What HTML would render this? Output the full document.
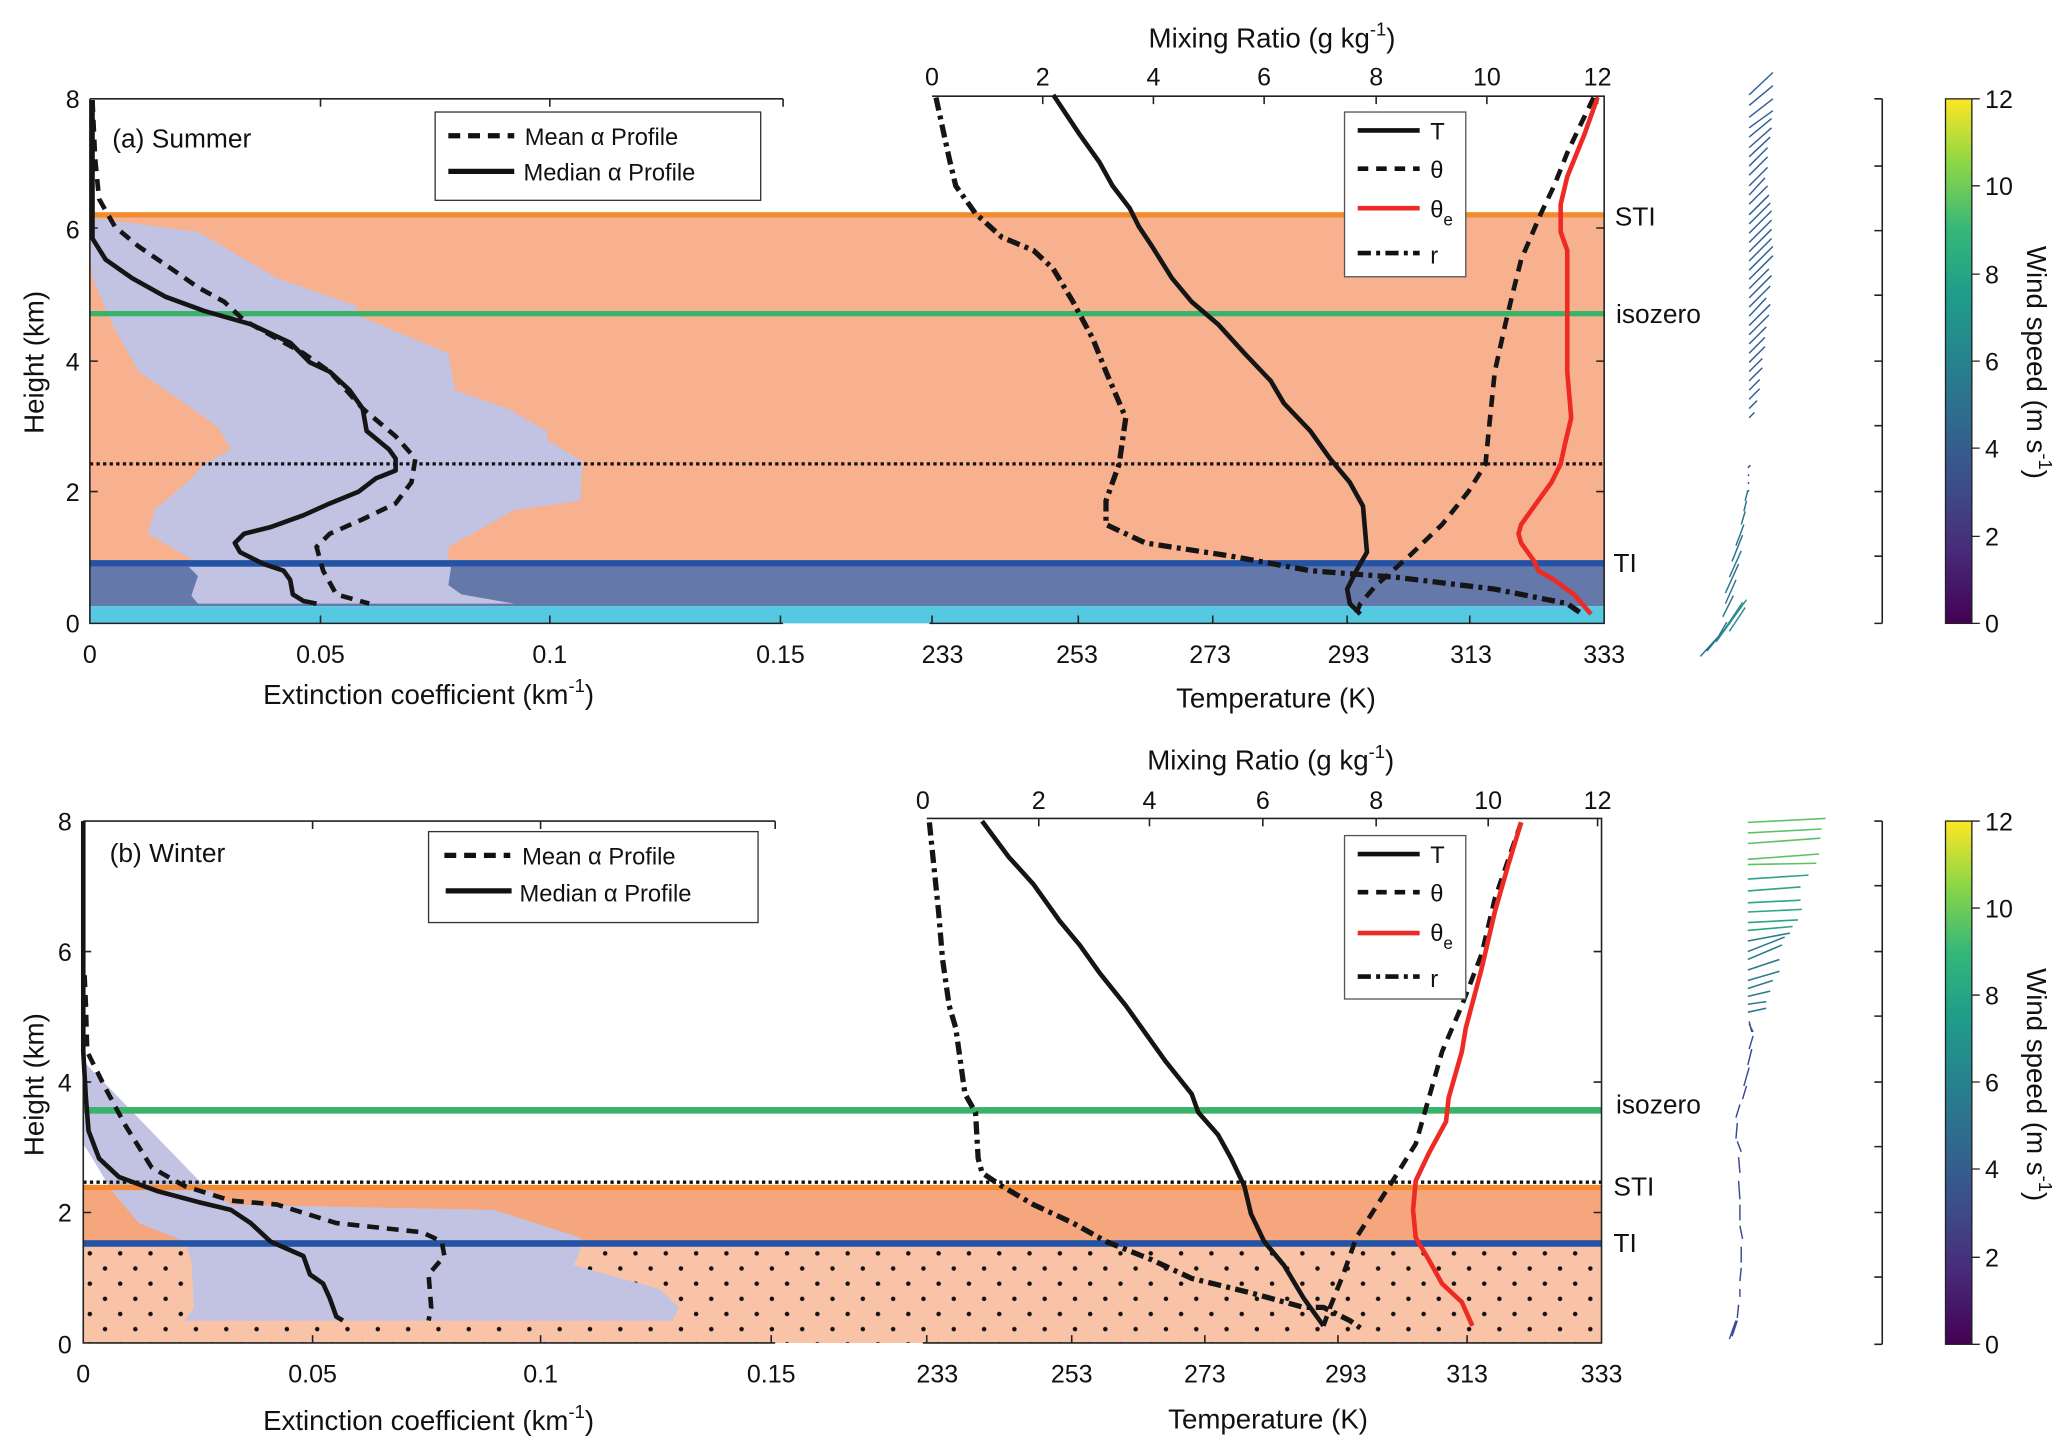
<!DOCTYPE html>
<html><head><meta charset="utf-8"><style>
html,body{margin:0;padding:0;background:#fff;}
svg{display:block;}
text{font-family:"Liberation Sans",sans-serif;fill:#111;}
</style></head><body>
<svg width="2067" height="1455" viewBox="0 0 1568 1104" xmlns="http://www.w3.org/2000/svg">
<defs>
<linearGradient id="vir" x1="0" y1="1" x2="0" y2="0">
<stop offset="0" stop-color="#440154"/><stop offset="0.13" stop-color="#482878"/><stop offset="0.25" stop-color="#3e4a89"/><stop offset="0.38" stop-color="#31688e"/><stop offset="0.5" stop-color="#26828e"/><stop offset="0.63" stop-color="#1f9e89"/><stop offset="0.75" stop-color="#35b779"/><stop offset="0.88" stop-color="#8fd744"/><stop offset="1" stop-color="#fde725"/>
</linearGradient>
<pattern id="dots" x="63" y="946" width="23" height="23" patternUnits="userSpaceOnUse">
<rect width="23" height="23" fill="#f9c3a8"/>
<circle cx="5" cy="5" r="1.7" fill="#111"/><circle cx="16.5" cy="16.5" r="1.7" fill="#111"/>
</pattern>
</defs>

<!-- ============ PANEL A ============ -->
<rect x="68" y="163" width="1149" height="267" fill="#f7b18f"/>
<rect x="68" y="430" width="1149" height="30" fill="#6578aa"/>
<rect x="68" y="460" width="1149" height="13" fill="#55c9e1"/>
<polygon fill="#c2c2e3" points="68,165 150,176 210,211 270,232 270,239 340,268 345,296 385,310 415,327 415,334 442,350 440,380 390,387 340,415 340,426 342,431 340,444 350,451 390,458 150,458 145,452 150,437 142,429 145,424 112,405 117,387 145,363 155,352 175,341 165,324 130,299 105,282 85,246 70,211 68,190"/>
<rect x="68" y="161" width="1149" height="4" fill="#f48a2e"/>
<rect x="68" y="236" width="1149" height="4" fill="#39b26a"/>
<rect x="68" y="425" width="1149" height="5" fill="#2453a6"/>
<line x1="68" y1="352" x2="1217" y2="352" stroke="#111" stroke-width="2.5" stroke-dasharray="2.5,2.5"/>

<g stroke="#222" stroke-width="1.2" fill="none">
<path d="M68 75V473H594M68 75H594"/>
<path d="M68 173h6M68 274h6M68 373h6M243 473v-6M417 473v-6M592 473v-6M243 75v6M417 75v6M594 75v6"/>
<path d="M707 73H1217V473H705"/>
<path d="M707 473v-6M791 73v6M875 73v6M959 73v6M1044 73v6M1128 73v6M1212 73v6M818 473v-6M920 473v-6M1022 473v-6M1115 473v-6M1217 173h-6M1217 274h-6M1217 373h-6"/>
</g>
<g font-size="19" text-anchor="middle">
<text x="55" y="82">8</text><text x="55" y="181">6</text><text x="55" y="281">4</text><text x="55" y="380">2</text><text x="55" y="480">0</text>
<text x="68" y="503">0</text><text x="243" y="503">0.05</text><text x="417" y="503">0.1</text><text x="592" y="503">0.15</text>
<text x="715" y="503">233</text><text x="817" y="503">253</text><text x="918" y="503">273</text><text x="1023" y="503">293</text><text x="1116" y="503">313</text><text x="1217" y="503">333</text>
<text x="707" y="65">0</text><text x="791" y="65">2</text><text x="875" y="65">4</text><text x="959" y="65">6</text><text x="1044" y="65">8</text><text x="1128" y="65">10</text><text x="1212" y="65">12</text>
</g>
<text x="325" y="534" font-size="21" text-anchor="middle">Extinction coefficient (km<tspan font-size="14" dy="-9">-1</tspan><tspan dy="9">)</tspan></text>
<text x="968" y="537" font-size="21" text-anchor="middle">Temperature (K)</text>
<text x="965" y="36" font-size="21" text-anchor="middle">Mixing Ratio (g kg<tspan font-size="14" dy="-9">-1</tspan><tspan dy="9">)</tspan></text>
<text transform="translate(33,275) rotate(-90)" font-size="21" text-anchor="middle">Height (km)</text>
<text x="85" y="112" font-size="20">(a) Summer</text>
<text x="1225" y="171" font-size="20">STI</text>
<text x="1226" y="245" font-size="20">isozero</text>
<text x="1224" y="434" font-size="20">TI</text>

<g fill="none" stroke="#151515" stroke-width="3.5" stroke-linejoin="round">
<polyline points="70,76 70,181 80,197 100,211 125,225 155,236 190,246 220,260 235,275 250,282 265,296 275,310 278,327 295,341 300,348 300,357 285,363 272,373 250,382 230,391 205,400 185,405 178,412 182,419 200,428 215,433 220,440 222,451 230,456 240,458"/>
<polyline stroke-dasharray="9,6" points="70,76 72,120 75,151 87,172 105,187 130,204 150,218 170,229 185,243 210,257 230,268 250,282 275,310 300,331 315,348 312,366 300,382 275,394 250,405 240,415 245,433 255,451 280,458"/>
<polyline points="799,72 819,102 834,123 844,141 857,158 864,172 874,187 889,211 904,229 924,246 944,268 964,289 974,306 994,327 1009,348 1024,366 1034,384 1037,419 1029,433 1022,447 1024,458 1032,466"/>
<polyline stroke-dasharray="9,6" points="1209,74 1197,99 1189,116 1179,141 1169,162 1154,197 1147,225 1142,246 1134,282 1129,331 1127,352 1114,373 1094,398 1069,422 1044,444 1032,458 1029,465"/>
<polyline stroke-dasharray="10,4,3,4" stroke-width="4" points="710,74 720,120 725,141 740,162 760,180 784,190 799,204 814,229 829,257 839,282 854,317 849,352 839,380 839,398 869,412 934,422 994,433 1059,438 1134,447 1189,458 1199,465"/>
</g>
<polyline fill="none" stroke="#ee2a24" stroke-width="3.5" points="1212,74 1202,102 1189,134 1184,155 1184,176 1189,190 1189,225 1189,282 1192,317 1187,338 1184,352 1177,366 1164,384 1154,398 1152,405 1154,412 1164,426 1167,433 1179,440 1194,451 1207,466"/>

<rect x="330" y="85" width="247" height="67" fill="#fff" stroke="#333" stroke-width="1"/>
<line x1="340" y1="103" x2="390" y2="103" stroke="#111" stroke-width="4" stroke-dasharray="9,6"/>
<line x1="340" y1="130" x2="390" y2="130" stroke="#111" stroke-width="4"/>
<text x="398" y="110" font-size="18">Mean α Profile</text>
<text x="397" y="137" font-size="18">Median α Profile</text>

<rect x="1020" y="85" width="92" height="125" fill="#fff" stroke="#555" stroke-width="1"/>
<g stroke-width="3.5" fill="none">
<line x1="1030" y1="99" x2="1077" y2="99" stroke="#111"/>
<line x1="1030" y1="128" x2="1077" y2="128" stroke="#111" stroke-dasharray="8,6"/>
<line x1="1030" y1="158" x2="1077" y2="158" stroke="#ee2a24"/>
<line x1="1030" y1="192" x2="1077" y2="192" stroke="#111" stroke-dasharray="10,4,3,4"/>
</g>
<g font-size="18"><text x="1085" y="106">T</text><text x="1085" y="135">θ</text><text x="1085" y="165">θ<tspan font-size="13" dy="6">e</tspan></text><text x="1085" y="200">r</text></g>

<!-- wind a -->
<path stroke="#2f5e97" stroke-width="1.1" fill="none" d="M1327 72l18-17m-18 25l18-15m-18 24l18-14m-18 22l18-13m-18 20l17-14m-17 22l17-15m-17 22l16-15m-16 22l14-14m-14 21l14-14m-14 22l14-14m-14 21l12-13m-12 20l14-14m-14 22l15-15m-15 22l16-16m-16 23l17-17m-17 24l17-17m-17 24l17-17m-17 24l17-17m-17 24l18-18m-18 25l18-18m-18 25l15-15m-15 22l17-17m-17 24l16-16m-16 23l13-14m-13 21l16-16m-16 23l15-15m-15 22l13-13m-13 20l12-12m-12 19l12-12m-12 19l10-10m-10 17l10-10m-10 17l8-8m-8 15l8-8m-8 15l6-6m-6 13l4-4"/>
<path stroke="#34428c" stroke-width="1.1" fill="none" d="M1326 355l2-2m-2 8l1-1m-1 7l1-1m-1 7l1-1"/>
<path stroke="#2a7390" stroke-width="1.1" fill="none" d="M1326 372l-2 8m1 0l-2 8m1 0l-3 10m2 0l-6 16m5-8l-8 20m7-8l-9 20m7-10l-10 22m8-10l-8 18m6-6l-8 16m3 4l-8 14m8-10l-20 22m23-26l-18 22"/>
<path stroke="#2c8e8c" stroke-width="1.1" fill="none" d="M1325 455l-23 32m20-30l-16 24m18-20l-12 18"/>
<g stroke="#222" stroke-width="1.2" fill="none"><path d="M1428 75V473M1422 75h6M1422 126h6M1422 175h6M1422 224h6M1422 274h6M1422 323h6M1422 373h6M1422 422h6M1422 473h6"/></g>
<rect x="1476" y="75" width="20" height="398" fill="url(#vir)" stroke="#222" stroke-width="1"/>
<g stroke="#222" stroke-width="1"><path d="M1496 75h6M1496 141h6M1496 208h6M1496 274h6M1496 340h6M1496 407h6M1496 473h6"/></g>
<g font-size="19"><text x="1506" y="82">12</text><text x="1506" y="148">10</text><text x="1506" y="215">8</text><text x="1506" y="281">6</text><text x="1506" y="347">4</text><text x="1506" y="414">2</text><text x="1506" y="480">0</text></g>
<text transform="translate(1538,275) rotate(90)" font-size="21" text-anchor="middle">Wind  speed (m s<tspan font-size="14" dy="-9">-1</tspan><tspan dy="9">)</tspan></text>

<!-- ============ PANEL B ============ -->
<rect x="63" y="901" width="1152" height="42" fill="#f6a67c"/>
<rect x="63" y="945" width="1152" height="74" fill="url(#dots)"/>
<polygon fill="#c2c2e3" points="63,805 150,895 155,900 175,914 375,918 440,939 440,949 435,960 500,978 515,992 510,1002 140,1002 147,992 145,956 140,942 105,928 85,904 70,879 63,868"/>
<rect x="63" y="840" width="1152" height="5" fill="#39b26a"/>
<rect x="63" y="899" width="1152" height="4" fill="#f48a2e"/>
<rect x="63" y="941" width="1152" height="5" fill="#2453a6"/>
<line x1="63" y1="897" x2="1215" y2="897" stroke="#111" stroke-width="2.5" stroke-dasharray="2.5,2.5"/>

<g stroke="#222" stroke-width="1.2" fill="none">
<path d="M63 623V1019H588M63 623H588"/>
<path d="M63 722h6M63 821h6M63 920h6M237 1019v-6M410 1019v-6M585 1019v-6M237 623v6M410 623v6M588 623v6"/>
<path d="M703 621H1215V1019H700"/>
<path d="M703 1019v-6M788 621v6M872 621v6M958 621v6M1044 621v6M1129 621v6M1212 621v6M813 1019v-6M914 1019v-6M1015 1019v-6M1113 1019v-6M1215 722h-6M1215 821h-6M1215 920h-6"/>
</g>
<g font-size="19" text-anchor="middle">
<text x="49" y="630">8</text><text x="49" y="729">6</text><text x="49" y="828">4</text><text x="49" y="927">2</text><text x="49" y="1027">0</text>
<text x="63" y="1049">0</text><text x="237" y="1049">0.05</text><text x="410" y="1049">0.1</text><text x="585" y="1049">0.15</text>
<text x="711" y="1049">233</text><text x="813" y="1049">253</text><text x="914" y="1049">273</text><text x="1021" y="1049">293</text><text x="1113" y="1049">313</text><text x="1215" y="1049">333</text>
<text x="700" y="614">0</text><text x="788" y="614">2</text><text x="872" y="614">4</text><text x="958" y="614">6</text><text x="1044" y="614">8</text><text x="1129" y="614">10</text><text x="1212" y="614">12</text>
</g>
<text x="325" y="1085" font-size="21" text-anchor="middle">Extinction coefficient (km<tspan font-size="14" dy="-9">-1</tspan><tspan dy="9">)</tspan></text>
<text x="962" y="1084" font-size="21" text-anchor="middle">Temperature (K)</text>
<text x="964" y="584" font-size="21" text-anchor="middle">Mixing Ratio (g kg<tspan font-size="14" dy="-9">-1</tspan><tspan dy="9">)</tspan></text>
<text transform="translate(33,823) rotate(-90)" font-size="21" text-anchor="middle">Height (km)</text>
<text x="83" y="654" font-size="20">(b) Winter</text>
<text x="1226" y="845" font-size="20">isozero</text>
<text x="1224" y="907" font-size="20">STI</text>
<text x="1224" y="950" font-size="20">TI</text>

<g fill="none" stroke="#151515" stroke-width="3.5" stroke-linejoin="round">
<polyline points="63,623 63,798 65,833 67,858 75,879 90,893 120,904 150,912 175,918 190,928 205,942 230,953 235,967 245,974 250,985 255,999 260,1002"/>
<polyline stroke-dasharray="9,6" points="64,740 65,763 66,798 80,826 95,854 115,886 140,900 175,911 210,914 255,928 320,935 335,942 337,953 325,967 327,992 325,1002"/>
<polyline points="745,623 765,650 784,671 804,699 819,717 834,738 854,763 869,784 884,805 904,830 909,844 924,861 934,879 944,900 949,921 959,942 974,960 989,985 1004,1006"/>
<polyline stroke-dasharray="9,6" points="1154,624 1134,682 1124,724 1109,763 1094,798 1084,833 1074,868 1054,900 1029,939 1019,967 1009,992 1004,1006"/>
<polyline stroke-dasharray="10,4,3,4" stroke-width="4" points="705,624 712,692 715,728 720,763 725,780 732,830 740,844 742,879 745,890 760,900 784,914 814,928 839,942 874,956 904,970 949,981 989,992 1004,992 1024,1002 1034,1009"/>
</g>
<polyline fill="none" stroke="#ee2a24" stroke-width="3.5" points="1154,624 1144,657 1134,692 1124,735 1112,780 1109,798 1099,833 1097,851 1084,875 1074,896 1072,918 1074,939 1084,956 1094,974 1109,988 1117,1006"/>

<rect x="325" y="631" width="250" height="69" fill="#fff" stroke="#333" stroke-width="1"/>
<line x1="337" y1="649" x2="387" y2="649" stroke="#111" stroke-width="4" stroke-dasharray="9,6"/>
<line x1="338" y1="676" x2="388" y2="676" stroke="#111" stroke-width="4"/>
<text x="396" y="656" font-size="18">Mean α Profile</text>
<text x="394" y="684" font-size="18">Median α Profile</text>

<rect x="1020" y="634" width="92" height="124" fill="#fff" stroke="#555" stroke-width="1"/>
<g stroke-width="3.5" fill="none">
<line x1="1030" y1="648" x2="1077" y2="648" stroke="#111"/>
<line x1="1030" y1="677" x2="1077" y2="677" stroke="#111" stroke-dasharray="8,6"/>
<line x1="1030" y1="708" x2="1077" y2="708" stroke="#ee2a24"/>
<line x1="1030" y1="741" x2="1077" y2="741" stroke="#111" stroke-dasharray="10,4,3,4"/>
</g>
<g font-size="18"><text x="1085" y="655">T</text><text x="1085" y="684">θ</text><text x="1085" y="714">θ<tspan font-size="13" dy="6">e</tspan></text><text x="1085" y="749">r</text></g>

<!-- wind b -->
<path stroke="#5fc165" stroke-width="1.2" fill="none" d="M1326 624L1385 621M1326 632L1382 629M1326 640L1381 636M1326 652L1380 648M1326 656L1378 655"/>
<path stroke="#2aa585" stroke-width="1.2" fill="none" d="M1326 667L1372 664M1326 676L1366 673M1326 685L1366 683M1326 692L1367 690M1326 700L1364 698M1326 706L1360 703"/>
<path stroke="#2b7a8e" stroke-width="1.2" fill="none" d="M1326 714L1358 708M1326 722L1354 711M1326 728L1352 717M1326 736L1350 728M1326 744L1350 737M1326 750L1345 744M1326 756L1343 752M1326 762L1340 760M1326 768L1340 765"/>
<path stroke="#3a4a92" stroke-width="1.1" fill="none" d="M1327 775l2 8m-2-6l3 6m0 3l-3 10m2 0l-3 12m1 2l-4 14m2 0l-3 10m-2 4l-3 10m1 4l-1 12m1 2l3 8m-2 4l1 12m-1 6l1 14m0 4l0 12m0 4l2 10m-1 6l0 12m0 4l-1 10m0 6l0 6m-1 6l-1 10m-1 2l-5 14m6-14l-4 12"/>
<g stroke="#222" stroke-width="1.2" fill="none"><path d="M1428 623V1020M1422 623h6M1422 672h6M1422 722h6M1422 771h6M1422 821h6M1422 870h6M1422 920h6M1422 969h6M1422 1020h6"/></g>
<rect x="1476" y="623" width="20" height="397" fill="url(#vir)" stroke="#222" stroke-width="1"/>
<g stroke="#222" stroke-width="1"><path d="M1496 623h6M1496 689h6M1496 755h6M1496 821h6M1496 887h6M1496 954h6M1496 1020h6"/></g>
<g font-size="19"><text x="1506" y="630">12</text><text x="1506" y="696">10</text><text x="1506" y="762">8</text><text x="1506" y="828">6</text><text x="1506" y="894">4</text><text x="1506" y="961">2</text><text x="1506" y="1027">0</text></g>
<text transform="translate(1538,823) rotate(90)" font-size="21" text-anchor="middle">Wind  speed (m s<tspan font-size="14" dy="-9">-1</tspan><tspan dy="9">)</tspan></text>
</svg>
</body></html>
